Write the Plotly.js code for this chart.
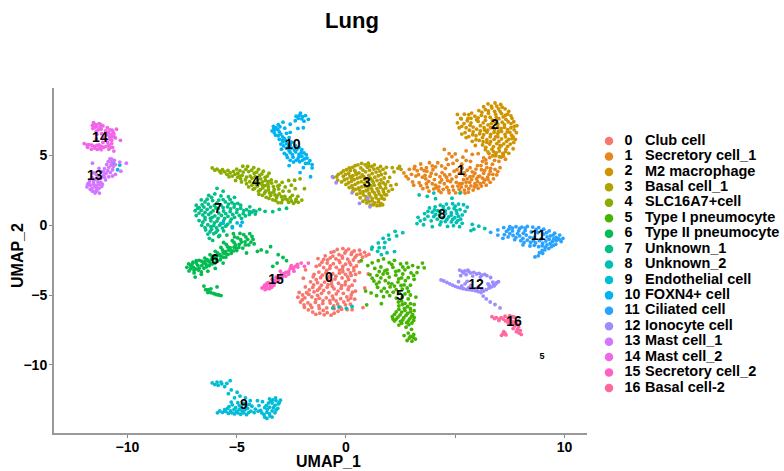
<!DOCTYPE html>
<html><head><meta charset="utf-8"><script src="https://cdn.plot.ly/plotly-3.0.1.min.js"></script>
<style>html,body{margin:0;padding:0;background:#fff}</style></head><body><div id="c" style="width:784px;height:471px"></div>
<script>
const clusterIds=["0","1","2","3","4","5","6","7","8","9","10","11","12","13","14","15","16"];
const cellTypes=["Club cell","Secretory cell_1","M2 macrophage","Basal cell_1","SLC16A7+cell","Type I pneumocyte","Type II pneumocyte","Unknown_1","Unknown_2","Endothelial cell","FOXN4+ cell","Ciliated cell","Ionocyte cell","Mast cell_1","Mast cell_2","Secretory cell_2","Basal cell-2"];
const colors=["#F8766D","#E7851E","#D09400","#B2A100","#89AC00","#45B500","#00BC51","#00C087","#00C0B2","#00BCD6","#00B3F2","#29A3FF","#9C8DFF","#D277FF","#F166E8","#FF61C7","#FF689E"];
const labelX=[-0.78,5.26,6.82,0.96,-4.12,2.47,-6.0,-5.86,4.39,-4.67,-2.43,8.79,5.95,-11.49,-11.26,-3.2,7.69];
const labelY=[-3.8,3.86,7.14,3.0,3.07,-5.14,-2.57,1.14,0.71,-12.93,5.71,-0.79,-4.29,3.5,6.21,-3.93,-6.93];
const c0=[[-0.14,-1.68],[0.12,-1.72],[-0.4,-1.75],[-0.68,-1.95],[0.38,-1.85],[0.62,-1.8],[0.85,-1.95],[1.05,-2.1],[-0.05,-2],[-0.32,-2.12],[0.24,-2.1],[0.5,-2.15],[0.76,-2.3],[-0.95,-2.2],[-1.28,-2.4],[-0.72,-2.35],[-0.46,-2.42],[-0.16,-2.36],[0.08,-2.44],[0.34,-2.5],[0.6,-2.62],[-1.1,-2.66],[-0.86,-2.72],[-0.58,-2.76],[-0.28,-2.68],[-0.02,-2.8],[0.22,-2.84],[0.48,-2.92],[-1.36,-2.95],[-1.02,-3.04],[-0.74,-3.1],[-0.44,-3.02],[-0.16,-3.14],[0.1,-3.18],[0.36,-3.26],[0.62,-3.4],[-1.24,-3.36],[-0.92,-3.42],[-0.6,-3.48],[-0.3,-3.44],[-0.02,-3.52],[0.24,-3.6],[-1.5,-3.7],[-1.16,-3.76],[-0.82,-3.82],[-0.5,-3.86],[-0.18,-3.78],[0.12,-3.9],[0.4,-3.98],[-1.62,-4.06],[-1.3,-4.12],[-0.98,-4.08],[-0.66,-4.2],[-0.34,-4.16],[-0.04,-4.26],[0.28,-4.3],[-1.86,-4.42],[-1.52,-4.46],[-1.2,-4.5],[-0.86,-4.44],[-0.54,-4.56],[-0.22,-4.52],[0.1,-4.62],[0.44,-4.72],[-2.14,-4.82],[-1.8,-4.84],[-1.46,-4.78],[-1.12,-4.88],[-0.78,-4.84],[-0.44,-4.92],[-0.12,-4.88],[0.24,-5],[-2.2,-5.16],[-1.88,-5.2],[-1.56,-5.14],[-1.22,-5.24],[-0.9,-5.2],[-0.58,-5.28],[-0.24,-5.26],[0.1,-5.36],[-2.08,-5.5],[-1.74,-5.56],[-1.4,-5.52],[-1.06,-5.6],[-0.72,-5.58],[-0.38,-5.64],[-0.02,-5.7],[-1.9,-5.88],[-1.56,-5.9],[-1.22,-5.96],[-0.88,-5.92],[-0.54,-5.98],[-0.2,-6.02],[-1.52,-6.22],[-1.2,-6.3],[-0.86,-6.26],[-0.54,-6.3],[0.4,-5.3],[0.86,-4.5],[1.02,-3.5],[-2.5,-2.9],[-1.85,-3.2],[-1.95,-3.8],[0.78,-5.9],[0.28,-6.05]];
const c0b=[[-0.55,-1.9],[0,-1.85],[0.28,-1.95],[-0.18,-2.22],[0.42,-2.3],[-0.84,-2.5],[-0.32,-2.54],[0.16,-2.66],[-1.2,-2.85],[-0.72,-2.92],[-0.14,-2.96],[0.36,-3.05],[-0.88,-3.24],[-0.3,-3.22],[0.2,-3.42],[-1.08,-3.58],[-0.46,-3.66],[0.08,-3.7],[-1.36,-3.9],[-0.66,-4],[-0.02,-4.06],[-1.48,-4.28],[-0.82,-4.26],[-0.2,-4.34],[-1.68,-4.64],[-1.02,-4.68],[-0.36,-4.72],[0.3,-4.8],[-1.98,-5],[-1.3,-5.02],[-0.62,-5.08],[0.04,-5.14],[-2,-5.34],[-1.38,-5.34],[-0.74,-5.4],[-0.1,-5.5],[-1.92,-5.7],[-1.24,-5.76],[-0.56,-5.78],[-1.72,-6.06],[-1.04,-6.1],[-0.36,-6.16],[-1.38,-6.38],[-1,-6.42],[-0.68,-6.44],[-1.62,-5.72],[-1.05,-5.4],[-0.45,-5.42],[0.22,-5.22],[-1.7,-4.96],[-1.3,-4.66],[-0.62,-4.4],[0.14,-4.42],[-1.12,-4.3],[-1.46,-3.52],[-0.74,-3.66],[-0.14,-3.34],[0.44,-3.52],[-1.02,-2.46],[-0.6,-2.22],[0.66,-2.08],[0.92,-2.2],[0.2,-5.65],[0.05,-6.05],[-0.25,-5.88]];
const c1=[[2.65,3.72],[2.9,3.98],[3.15,4.18],[3.42,4.36],[3.58,3.88],[3.2,3.5],[2.85,3.3],[3.35,3.02],[3.65,3.3],[3.9,3.7],[4.1,4.15],[3.82,4.45],[4.3,3.45],[3.95,2.95],[3.52,2.6],[3.8,2.42],[4.15,2.65],[4.5,2.95],[4.75,3.6],[4.55,4.05],[4.9,4.4],[4.6,4.7],[5,5.08],[4.35,2.32],[4.7,2.48],[5.02,2.3],[5.28,2.72],[5.05,3.05],[5.38,3.25],[5.2,3.7],[5.55,3.92],[5.3,4.35],[5.7,4.55],[5.35,4.85],[5.78,5.05],[5.6,2.35],[5.88,2.72],[5.66,3.05],[5.98,3.3],[5.9,3.7],[6.2,3.95],[6.02,4.25],[6.25,4.55],[6.15,2.95],[6.35,3.22],[6.55,3.62],[6.45,4.1],[6.7,4.35],[6.58,4.82],[6.82,3.98],[7,4.55],[7.2,5.02],[5.42,2.5],[4.88,2.76],[4.3,3.05],[4.85,3.28],[5.68,3.46],[6.12,3.5],[6.3,3.7],[5.55,3.3],[5.78,3.8],[5.9,2.95],[5.18,2.55],[4.62,2.7],[3.1,2.85],[3.32,3.6],[3.72,2.7],[4.05,3.25],[4.4,3.75],[4.2,4.45],[4.72,5.1],[4.95,3.85],[6.6,3.05],[6.9,3.58],[7.3,4.7],[6.85,5.1],[7.05,4.1],[6.3,4.8],[6.05,5.1],[5.5,5.3],[4.5,5.4],[3.05,3.08],[2.75,3.48],[3.45,4.02],[5.2,2.95],[5.5,2.78],[5.75,3.25],[6.05,2.62],[6.42,2.85],[6.75,3.3],[4.25,2.45],[4.02,2.58],[5.32,4.08],[5.08,4.62],[4.78,3.1],[3.95,4.22],[4.68,4.32],[3.68,4.1]];
const c1b=[[3,3.62],[3.26,3.88],[3.5,3.42],[3.78,3.12],[4.12,3.62],[4.38,3.22],[4.6,3.42],[4.1,2.85],[4.45,2.55],[4.92,2.5],[5.12,2.78],[5.32,2.98],[5.5,3.06],[5.62,2.6],[5.82,2.5],[5.98,2.82],[6.2,2.78],[6.3,3.05],[6.48,3.42],[6.25,3.35],[6.02,3.1],[5.82,3.5],[5.45,3.55],[5.05,3.45],[5.08,3.95],[5.42,3.72],[5.68,4.1],[5.95,4.0],[6.18,4.25],[6.42,4.4],[6.62,4.05],[6.8,4.62],[6.4,4.65],[6.6,3.85],[6.95,3.82],[6.72,3.62],[7.1,4.85],[5.5,4.62],[4.85,4.88],[4.38,4.22],[4.52,3.58],[3.85,3.48],[3.12,4.02],[3.62,3.55],[3.42,2.82],[3.68,2.95],[4.25,2.72],[4.72,2.3],[5.25,2.35],[5.45,2.28],[5.72,2.8],[6.05,3.45],[6.35,3.9],[6.5,3.25],[4.65,3.18],[3.98,3.95],[3.7,3.85]];
const c2=[[6.5,8.66],[6.82,8.72],[7.08,8.62],[7.28,8.3],[6.98,8.3],[6.68,8.36],[6.38,8.24],[6.08,8.18],[5.75,8],[5.42,7.92],[5.1,7.9],[5.25,7.62],[5.58,7.6],[5.9,7.78],[6.2,7.84],[6.52,7.98],[6.85,7.92],[7.12,7.96],[7.4,7.92],[7.6,7.62],[7.32,7.55],[7,7.6],[6.7,7.5],[6.38,7.48],[6.05,7.4],[5.72,7.3],[5.4,7.25],[5.1,7.3],[5.18,6.95],[5.5,6.95],[5.82,7],[6.15,7.1],[6.5,7.15],[6.95,7.2],[7.25,7.18],[7.55,7.25],[7.82,7.1],[7.7,6.8],[7.4,6.82],[7.1,6.88],[6.8,6.82],[6.48,6.78],[6.15,6.72],[5.82,6.65],[5.45,6.6],[5.3,6.5],[5.62,6.32],[5.95,6.38],[6.3,6.45],[6.62,6.48],[6.95,6.52],[7.28,6.48],[7.58,6.42],[7.75,6.12],[7.45,6.12],[7.12,6.15],[6.78,6.12],[6.45,6.1],[6.1,6.05],[5.78,5.98],[5.92,5.68],[6.25,5.72],[6.58,5.78],[6.9,5.82],[7.22,5.8],[7.52,5.78],[7.65,5.45],[7.32,5.42],[7,5.48],[6.68,5.42],[6.38,5.38],[6.55,5.1],[6.88,5.15],[7.18,5.12],[7.45,5.12],[7.02,4.88],[6.72,4.95],[5.28,7.58],[5.62,7.88],[6.3,8.45],[6.9,8.5],[7.45,8.12],[7.68,7.38],[7.55,6.95],[7.8,6.6],[7.6,6.18],[5.5,6.25],[5.95,6.1],[6.35,6.78],[6.65,7.25],[6.98,6.7],[7.3,7.85],[5.72,7.62],[6.05,7.65],[6.6,7.7],[7.15,7.35],[7.38,6.65],[6.85,6.3],[6.45,5.9],[7.1,5.65]];
const c2b=[[6.65,8.5],[7.15,8.42],[6.52,8.15],[6.22,8.05],[6.8,8.12],[7.05,8.12],[7.55,7.8],[7.2,7.72],[6.88,7.7],[6.38,7.72],[5.98,7.52],[5.55,7.45],[5.3,7.05],[5.68,7.12],[6.28,7.3],[6.8,7.38],[7.42,7.38],[7.7,7.05],[7.25,6.98],[6.95,7],[6.62,6.95],[6.32,6.95],[5.98,6.85],[5.65,6.78],[5.8,6.45],[6.12,6.52],[6.45,6.62],[6.78,6.62],[7.12,6.68],[7.5,6.62],[7.65,6.3],[7.3,6.3],[6.95,6.3],[6.6,6.3],[6.25,6.25],[6.28,5.95],[6.62,5.95],[7,5.98],[7.35,5.98],[7.68,5.9],[6.4,5.55],[6.75,5.6],[7.05,5.68],[7.4,5.62],[6.5,5.22],[6.75,5.25],[7.02,5.28],[7.3,5.25],[6.85,4.95],[7.2,4.92]];
const c3=[[-0.58,3.4],[-0.35,3.62],[-0.12,3.86],[0.15,4.08],[0.42,4.24],[0.72,4.4],[1.02,4.42],[1.3,4.3],[1.58,4.18],[1.85,4.12],[2.12,4.1],[2.38,4.05],[2.52,3.98],[-0.38,3.2],[-0.12,3.48],[0.12,3.7],[0.4,3.9],[0.68,4.08],[0.98,4.12],[1.28,4],[1.55,3.85],[1.8,3.7],[-0.2,3.08],[0.05,3.3],[0.32,3.52],[0.6,3.72],[0.9,3.8],[1.2,3.68],[1.48,3.52],[1.75,3.36],[2,3.4],[0,2.9],[0.25,3.12],[0.52,3.35],[0.82,3.45],[1.12,3.35],[1.42,3.18],[1.7,3.02],[1.92,3.1],[0.15,2.68],[0.42,2.9],[0.7,3.1],[1,3.05],[1.3,2.85],[1.58,2.7],[1.82,2.65],[2.05,2.82],[0.32,2.42],[0.58,2.65],[0.88,2.75],[1.18,2.58],[1.48,2.42],[1.72,2.36],[1.95,2.42],[0.5,2.2],[0.78,2.38],[1.06,2.26],[1.36,2.12],[1.62,2.08],[1.86,2.15],[0.65,1.95],[0.92,2.02],[1.2,1.9],[1.5,1.82],[1.75,1.85],[0.78,1.7],[1.05,1.68],[1.32,1.58],[1.6,1.55],[1.12,1.42],[1.42,1.38],[1.68,1.45],[0.2,3.9],[1.05,4.22],[0.48,3.62],[0.85,3.25],[1.2,3.18],[1.55,2.95],[0.32,2.62],[0.62,2.5],[1,2.5],[1.3,2.3],[-0.02,3.62],[0.25,3.35],[1.62,3.6],[2.2,3.8],[2.45,4.18],[2.3,2.9],[2.12,2.55]];
const c3b=[[-0.42,3.45],[-0.22,3.72],[0.02,3.95],[0.3,4.12],[0.55,4.3],[0.88,4.3],[1.18,4.18],[1.45,4.05],[1.7,3.98],[0.78,3.92],[1.08,3.92],[1.38,3.78],[-0.08,3.22],[0.18,3.5],[0.45,3.75],[0.75,3.58],[1.05,3.55],[1.32,3.42],[1.6,3.22],[0.12,3.02],[0.38,3.25],[0.65,3.42],[0.95,3.22],[1.25,3.05],[1.52,2.88],[1.8,2.9],[0.28,2.82],[0.55,3.02],[0.85,2.95],[1.15,2.82],[1.42,2.6],[1.7,2.52],[0.45,2.55],[0.72,2.72],[1.02,2.68],[0.65,2.28],[0.92,2.45],[1.22,2.4],[1.52,2.22],[1.78,2.18],[0.8,2.15],[1.1,2.08],[1.38,1.95],[1.65,1.92],[0.92,1.82],[1.2,1.72],[1.48,1.65],[1.25,1.45],[1.55,1.4],[0.95,1.58]];
const c4=[[-6.12,4.08],[-5.9,4],[-5.65,3.95],[-5.4,3.9],[-5.15,3.84],[-5,4],[-4.72,4.2],[-4.5,4.18],[-4.22,4.1],[-4,3.98],[-3.78,3.85],[-3.52,3.7],[-5.72,3.72],[-5.45,3.62],[-5.2,3.5],[-4.95,3.42],[-4.7,3.78],[-4.45,3.82],[-4.2,3.7],[-3.95,3.55],[-3.7,3.4],[-3.42,3.22],[-4.95,3.7],[-5.05,3.18],[-4.78,3.08],[-4.55,3.42],[-4.3,3.35],[-4.05,3.22],[-3.82,3.08],[-3.58,2.92],[-3.32,2.75],[-3.08,2.58],[-4.55,2.95],[-4.3,2.85],[-4.05,2.78],[-3.8,2.65],[-3.55,2.52],[-3.3,2.38],[-3.05,2.22],[-2.8,2.05],[-2.55,1.95],[-2.28,1.85],[-2.02,1.78],[-4.25,2.55],[-4,2.42],[-3.72,2.28],[-3.45,2.12],[-3.18,1.95],[-2.9,1.8],[-2.62,1.62],[-2.4,1.55],[-3.98,2.2],[-3.65,1.98],[-3.35,1.8],[-3.1,1.6],[-3.2,3.1],[-2.92,3.05],[-2.62,3.18],[-2.35,3.2],[-3.05,2.85],[-2.78,2.72],[-2.5,2.85],[-2.32,2.6],[-2.6,2.42],[-2.88,2.42],[-2.45,2.12],[-2.2,2.05],[-3.9,3.3],[-4.4,3.1],[-3.55,3.1],[-4.75,3.55],[-3.95,2.98],[-3.7,2.82],[-3.5,2.3],[-3.25,2.15],[-2.95,2.02],[-2.68,1.8],[-2.3,1.7],[-2.1,3.3],[-1.9,2.6]];
const c4b=[[-6,3.92],[-5.78,3.85],[-5.55,3.8],[-5.3,3.72],[-5.08,3.62],[-4.85,3.88],[-4.58,3.98],[-4.32,3.92],[-4.08,3.78],[-3.85,3.65],[-3.6,3.5],[-4.82,3.3],[-4.6,3.22],[-4.38,3.5],[-4.15,3.45],[-4.18,3.05],[-4.45,2.72],[-4.18,2.62],[-3.92,2.52],[-3.68,2.42],[-3.42,2.28],[-3.15,2.1],[-2.78,1.88],[-2.5,1.72],[-2.18,1.62],[-3.82,2.85],[-3.55,2.72],[-3.28,2.55],[-3.82,2.12],[-3.52,1.9],[-3.22,1.75],[-2.95,1.6],[-4.1,2.9],[-3.68,3.18],[-3.4,3],[-3.12,2.78],[-4.85,3.5],[-5.35,3.45]];
const c5=[[0.7,-2.55],[1.2,-2.7],[1.48,-2.55],[1.72,-2.42],[1.98,-2.68],[2.22,-2.52],[2.5,-2.78],[2.78,-2.72],[3.05,-2.9],[3.3,-3.02],[3.58,-3.06],[1.32,-3.1],[1.6,-3],[1.88,-3.2],[2.15,-3.02],[2.42,-3.26],[2.7,-3.2],[2.98,-3.42],[3.25,-3.4],[1.1,-3.55],[1.42,-3.6],[1.7,-3.5],[1.98,-3.72],[2.28,-3.58],[2.55,-3.78],[2.85,-3.76],[3.12,-3.88],[1.28,-4],[1.52,-4.08],[1.8,-3.98],[2.1,-4.2],[2.38,-4.08],[2.66,-4.28],[2.95,-4.3],[1.45,-4.45],[1.75,-4.52],[2.02,-4.42],[2.3,-4.62],[2.58,-4.58],[2.86,-4.75],[0.9,-4.72],[1.15,-4.85],[1.4,-5.05],[1.72,-5.12],[2,-5.05],[2.3,-5.22],[2.58,-5.15],[2.85,-5.28],[2.7,-5.6],[2.95,-5.62],[3.12,-5.68],[2.42,-5.78],[2.68,-5.95],[2.95,-5.98],[3.12,-6.12],[2.3,-6.2],[2.55,-6.22],[2.82,-6.32],[3.05,-6.4],[2.12,-6.55],[2.38,-6.58],[2.65,-6.62],[2.92,-6.7],[2.22,-6.85],[2.5,-6.88],[2.78,-6.98],[3.02,-7],[2.42,-7.15],[2.75,-7.3],[3,-7.45],[2.85,-7.72],[3.1,-7.82],[2.66,-7.9],[2.9,-8.08],[3.18,-8.15],[3.02,-8.3],[2.8,-8.25],[1,-2.9],[0.95,-5.7],[1.2,-3.8],[3.5,-2.72],[1.62,-5.62],[3.2,-5.15],[2.4,-5.5]];
const c5b=[[2.1,-2.82],[2.6,-3],[2.85,-3.02],[1.52,-3.32],[1.78,-3.28],[2.28,-3.32],[2.6,-3.5],[3.1,-3.6],[1.6,-3.78],[1.9,-3.45],[2.42,-3.85],[2.72,-3.98],[1.4,-4.22],[1.95,-4.15],[2.22,-4.36],[2.52,-4.32],[2.8,-4.5],[1.62,-4.72],[1.88,-4.78],[2.16,-4.8],[2.45,-4.85],[2.7,-4.92],[2.95,-5],[2.55,-5.42],[2.82,-5.82],[2.58,-5.68],[2.42,-6.02],[2.7,-6.1],[2.95,-6.2],[2.22,-6.38],[2.48,-6.42],[2.75,-6.45],[3,-6.55],[2.3,-6.72],[2.6,-6.78],[2.85,-6.85],[3.1,-6.82],[2.55,-7.02],[2.88,-7.12],[2.15,-6.72],[3.12,-6.6],[2.95,-7.95],[3.08,-8.05]];
const c6=[[-7.28,-3.02],[-7.2,-2.78],[-7.18,-3.28],[-7,-2.66],[-6.98,-3.02],[-6.95,-3.42],[-6.78,-2.88],[-6.75,-3.22],[-6.72,-2.52],[-6.52,-2.72],[-6.5,-3.08],[-6.46,-2.36],[-6.28,-2.58],[-6.25,-2.9],[-6.22,-2.12],[-6.02,-2.32],[-6,-2.72],[-5.98,-1.88],[-5.78,-2.12],[-5.75,-2.48],[-5.72,-1.6],[-5.52,-1.9],[-5.5,-2.3],[-5.48,-1.38],[-5.3,-1.62],[-5.25,-2.02],[-5.2,-1.12],[-5.05,-1.42],[-5,-1.82],[-4.95,-0.92],[-4.78,-1.22],[-4.72,-1.65],[-4.68,-0.68],[-4.5,-1.02],[-4.45,-1.42],[-4.4,-0.62],[-4.25,-1.02],[-4.2,-1.35],[-4.05,-1.88],[-3.88,-1.78],[-4.55,-2],[-5.82,-0.82],[-5.45,-0.72],[-5.15,-0.62],[-3.62,-1.92],[-3.45,-1.55],[-3.1,-2.12],[-3.15,-2.72],[-2.88,-2.32],[-2.72,-2.55],[-3.35,-2.95],[-6.9,-3.72],[-6.62,-3.52],[-6.32,-3.3],[-5.98,-3.1],[-5.62,-2.72],[-6.5,-4.36],[-6.42,-4.62],[-6.32,-4.82],[-6.18,-4.56],[-6.08,-4.88],[-5.92,-4.98],[-5.72,-5.04],[-5.9,-4.42],[-6.85,-2.72],[-6.62,-3.35],[-7.1,-2.92],[-6.4,-2.82],[-6.15,-2.45],[-5.9,-2.22],[-5.62,-2],[-5.38,-1.78],[-5.12,-1.58],[-4.88,-1.38],[-4.62,-1.2],[-4.3,-0.82],[-5.6,-1.25],[-5.1,-0.85],[-4.85,-0.6]];
const c6b=[[-7.1,-3.12],[-6.88,-3.14],[-7.05,-2.82],[-6.85,-2.55],[-6.6,-2.9],[-6.6,-2.58],[-6.38,-2.98],[-6.35,-2.48],[-6.12,-2.78],[-6.12,-2.25],[-5.9,-2.58],[-5.88,-2],[-5.62,-2.3],[-5.65,-1.78],[-5.4,-2.1],[-5.42,-1.55],[-5.15,-1.85],[-5.12,-1.25],[-4.9,-1.6],[-4.82,-1.05],[-4.6,-1.42],[-4.58,-0.85],[-4.35,-1.22],[-6.95,-3.24],[-6.72,-3.08],[-6.45,-2.62],[-6.22,-2.7],[-5.96,-2.42],[-5.72,-2.25],[-5.5,-2.05],[-5.28,-1.82],[-5.02,-1.65],[-6.3,-4.62],[-6.2,-4.82],[-6,-4.92],[-5.82,-5]];
const c7=[[-5.9,2.62],[-5.62,2.42],[-6.28,2.12],[-6,2.22],[-5.72,2.08],[-5.38,2.02],[-5.1,1.98],[-6.62,1.8],[-6.35,1.85],[-6.1,1.75],[-5.82,1.78],[-5.52,1.65],[-5.22,1.6],[-4.95,1.55],[-6.85,1.42],[-6.58,1.45],[-6.3,1.5],[-6.02,1.4],[-5.72,1.42],[-5.42,1.3],[-5.12,1.28],[-4.82,1.2],[-4.55,1.1],[-4.22,1.02],[-3.95,1.12],[-6.9,1.02],[-6.62,1.05],[-6.35,1.12],[-6.08,1.02],[-5.6,1],[-5.3,0.95],[-5,0.9],[-4.7,0.82],[-4.42,0.75],[-4.15,0.78],[-6.85,0.68],[-6.55,0.72],[-6.28,0.75],[-6,0.65],[-5.7,0.68],[-5.4,0.62],[-5.1,0.55],[-4.78,0.48],[-6.72,0.32],[-6.45,0.38],[-6.18,0.3],[-5.9,0.28],[-5.6,0.3],[-5.3,0.22],[-6.6,-0.02],[-6.32,0.02],[-6.05,-0.05],[-5.78,-0.02],[-5.5,-0.08],[-5.2,-0.12],[-6.42,-0.35],[-6.15,-0.3],[-5.88,-0.38],[-5.6,-0.42],[-6.32,-0.65],[-6.05,-0.62],[-5.78,-0.75],[-6.25,-0.95],[-6.1,-1.1],[-5.5,0.82],[-5.85,1.18],[-6.2,0.48],[-6.5,1.28],[-4.98,1.1],[-4.4,1.3],[-3.7,0.98],[-3.35,0.95],[-3.05,1.12],[-2.72,1.2],[-5.3,1.82],[-5.62,1.25],[-6.78,1.2],[-4.6,0.65],[-4.32,0.92]];
const c7b=[[-6.45,1.65],[-6.15,1.98],[-5.9,1.58],[-5.62,1.82],[-5.38,1.5],[-5.1,1.48],[-4.82,1.42],[-6.72,1.25],[-6.2,1.28],[-5.95,1.22],[-5.28,1.15],[-4.68,1.02],[-4.42,0.95],[-4.12,0.98],[-6.72,0.85],[-6.45,0.9],[-6.18,0.88],[-5.82,0.85],[-5.18,0.75],[-4.88,0.68],[-6.45,0.55],[-6.12,0.55],[-5.85,0.48],[-5.55,0.48],[-5.25,0.42],[-6.55,0.2],[-6.02,0.15],[-5.72,0.12],[-5.42,0.05],[-6.45,-0.18],[-6.18,-0.12],[-5.92,-0.2],[-5.65,-0.22],[-6.22,-0.48],[-5.95,-0.52]];
const c8=[[3.3,0.55],[3.6,0.82],[3.82,1.22],[4.08,1.3],[4.32,1.42],[4.6,1.5],[4.88,1.52],[5.15,1.5],[5.38,1.45],[5.55,1.28],[3.95,0.92],[4.2,1.02],[4.45,1.12],[4.7,1.2],[4.95,1.18],[5.22,1.1],[5.45,0.98],[3.75,0.62],[4.02,0.6],[4.28,0.72],[4.55,0.82],[4.82,0.88],[5.08,0.82],[5.32,0.72],[3.6,0.42],[3.9,0.3],[4.18,0.42],[4.42,0.52],[4.7,0.58],[4.98,0.52],[5.25,0.42],[4.55,0.25],[4.82,0.22],[5.05,0.18],[5.32,0.12],[3.25,0.1],[3.55,0.02],[3.95,-0.12],[4.3,0.02],[4.65,-0.1],[4.92,-0.05],[5.2,-0.12],[3.35,2.15],[3.72,2.05],[4.1,1.88],[4.02,2.28],[5.22,2.28],[4.85,1.92],[5.78,0.05],[6.08,-0.08],[6.35,-0.25],[5.85,-0.3],[5.72,-0.4],[2.6,-0.55],[2.25,-0.45],[1.95,-0.72],[2.32,-0.78],[1.7,-0.95],[1.98,-1.02],[1.48,-1.28],[1.78,-1.25],[1.2,-1.58],[1.52,-1.62],[1.18,-1.72],[1.75,-1.62],[1.45,-1.88],[1.88,-1.98],[1.62,-2.12],[2.22,-1.9],[-0.6,-5.92],[-0.32,-5.85],[0.02,-5.95],[0.28,-5.82]];
const c8b=[[4.05,1.08],[4.55,1],[5.05,1.02],[4.32,0.88],[4.82,0.7],[5.15,0.62],[4.1,0.75],[4.62,0.4],[4.88,0.4],[5.12,0.32],[4.35,0.22],[3.75,0.98],[3.4,0.3],[4.45,1.32],[5,1.35]];
const c9=[[-6.12,-11.28],[-5.9,-11.22],[-5.68,-11.35],[-5.45,-11.32],[-5.3,-11.12],[-5.85,-11.45],[-5.55,-11.55],[-5.25,-11.78],[-4.98,-11.95],[-5.38,-12.05],[-5.1,-12.35],[-4.85,-12.22],[-4.6,-12.35],[-4.38,-12.55],[-5.25,-12.65],[-4.95,-12.7],[-4.68,-12.75],[-4.42,-12.82],[-5.35,-12.98],[-5.05,-13.05],[-4.78,-13.02],[-4.5,-13.1],[-5.55,-13.2],[-5.28,-13.28],[-5,-13.32],[-4.75,-13.28],[-4.45,-13.4],[-5.88,-13.42],[-5.65,-13.38],[-5.38,-13.46],[-5.1,-13.5],[-4.82,-13.52],[-4.55,-13.55],[-3.82,-12.62],[-3.5,-12.42],[-3.22,-12.35],[-3,-12.52],[-3.65,-12.9],[-3.38,-12.72],[-3.1,-12.78],[-3.9,-13.25],[-3.6,-13.18],[-3.32,-13.05],[-3.12,-13.1],[-3.75,-13.55],[-3.5,-13.5],[-3.25,-13.42],[-3.62,-13.82],[-3.38,-13.72],[-4.15,-13.15],[-4.3,-12.95],[-3.98,-12.9],[-4.05,-12.55],[-10.62,4.38],[-10.45,3.95],[-10.35,4.28]];
const c9b=[[-6,-11.4],[-5.72,-11.22],[-5.78,-13.28],[-5.5,-13.32],[-5.22,-13.42],[-4.95,-13.42],[-4.68,-13.42],[-5.12,-13.18],[-4.88,-13.18],[-4.62,-13.2],[-5.2,-12.85],[-4.88,-12.9],[-4.58,-12.92],[-3.45,-12.58],[-3.2,-12.55],[-3.55,-12.72],[-3.25,-12.88],[-3.5,-13.02],[-3.72,-13.05],[-3.38,-13.28],[-3.62,-13.38],[-3.48,-13.65],[-3.72,-13.72],[-5.42,-13.1],[-4.35,-13.3],[-4.2,-13.4],[-4.02,-13.3],[-3.05,-12.7],[-3.2,-13.22],[-3.85,-13.42],[-3.35,-12.5]];
const c10=[[-2.08,8],[-1.85,7.82],[-2.28,7.78],[-2.02,7.58],[-2.32,7.45],[-1.72,7.55],[-2.55,7.2],[-2.8,6.92],[-3.32,7.05],[-3.1,7.18],[-2.88,7.35],[-3.38,6.72],[-3.12,6.82],[-3.22,6.42],[-2.98,6.5],[-2.55,6.62],[-2.2,6.9],[-1.95,6.95],[-3.05,6.12],[-2.82,6.18],[-2.98,5.78],[-2.72,5.82],[-2.48,5.92],[-2.95,5.42],[-2.72,5.48],[-2.48,5.5],[-2.25,5.42],[-2.82,5.12],[-2.55,5.18],[-2.3,5.22],[-2.05,5.18],[-1.82,5.02],[-2.68,4.82],[-2.42,4.85],[-2.15,4.88],[-1.9,4.72],[-1.65,4.6],[-2.4,4.5],[-2.12,4.52],[-1.85,4.4],[-1.55,4.32],[-2.6,4.25],[-1.95,4.1],[-1.55,4.08],[-1.62,3.45],[-2.1,3.75],[-3.2,6.95],[-2.9,6.05],[-2.15,5.05],[-5.62,0.12],[-5.2,-0.2],[-4.98,0.15],[-4.75,0.2],[-4.82,-0.05]];
const c10b=[[-2.12,7.85],[-1.98,7.75],[-3.25,6.82],[-3.05,6.65],[-3.28,6.6],[-3.1,6.38],[-2.9,6.3],[-2.88,5.95],[-2.62,5.62],[-2.85,5.65],[-2.6,5.32],[-2.35,5.35],[-2.72,5],[-2.45,5.02],[-2.2,4.72],[-2.02,4.92],[-1.78,4.78],[-3.02,7.02],[-3.3,6.9],[-2.72,6.55],[-2.6,6.25],[-2.75,6.02],[-2.55,5.72],[-2.32,5.68],[-2.15,5.55],[-2.02,5.38],[-1.92,5.15],[-2.55,4.62],[-2.28,4.62],[-2,4.62],[-1.72,4.42],[-2.18,7.62],[-1.92,7.42]];
const c11=[[6.62,-0.52],[6.95,-0.35],[7.22,-0.18],[7.5,-0.12],[7.78,-0.12],[8.05,-0.15],[8.3,-0.1],[8.55,-0.15],[8.82,-0.18],[9.05,-0.3],[9.3,-0.42],[9.55,-0.58],[9.78,-0.72],[9.93,-0.95],[7.35,-0.45],[7.62,-0.42],[7.9,-0.42],[8.2,-0.4],[8.48,-0.5],[8.78,-0.55],[9.05,-0.65],[9.35,-0.78],[9.62,-0.88],[7.65,-0.75],[7.95,-0.78],[8.25,-0.72],[8.6,-0.9],[8.95,-0.98],[9.3,-1.02],[9.62,-1.12],[9.85,-1.18],[7.72,-1.05],[8,-1.12],[8.3,-1.08],[8.68,-1.28],[9,-1.3],[9.35,-1.32],[9.6,-1.38],[8.1,-1.42],[8.42,-1.5],[8.82,-1.55],[9.12,-1.58],[9.4,-1.55],[8.98,-1.82],[8.85,-1.98],[8.65,-2.28],[8.8,-2.2],[9,-2.02],[6.95,-0.72],[7.25,-0.68],[7.18,-0.95]];
const c11b=[[7.62,-0.22],[7.95,-0.25],[8.2,-0.22],[8.7,-0.32],[9.18,-0.55],[9.48,-0.72],[9.72,-0.98],[9.45,-1.18],[9.15,-1.15],[8.85,-1.12],[9.2,-1.42],[9.5,-1.45],[8.58,-1.12],[7.85,-0.62],[8.12,-0.58],[9.78,-1.05],[7.45,-0.3],[7.5,-0.62],[7.78,-0.9],[8.1,-0.95],[8.42,-0.88],[8.45,-1.25],[8.15,-1.25],[8.95,-0.4],[9.2,-0.85],[9.5,-1],[8.62,-1.45],[8.98,-1.48],[9.28,-1.68],[9.1,-1.78],[7.42,-0.85]];
const c12=[[4.35,-3.92],[4.62,-4.1],[4.88,-4.3],[5.12,-4.45],[5.38,-4.55],[5.65,-4.62],[5.92,-4.7],[6.18,-4.82],[6.28,-5.08],[6.42,-4.62],[6.65,-4.42],[6.85,-4.22],[6.98,-4.05],[6.72,-4.08],[6.62,-3.75],[6.35,-3.52],[6.1,-3.45],[5.85,-3.38],[5.58,-3.22],[5.32,-3.32],[5.25,-3.62],[5.5,-3.55],[5.8,-3.65],[6.15,-3.72],[5.45,-4.2],[5.15,-4.05],[5.72,-4.32],[6.05,-4.48],[6.42,-5.28],[6.6,-5.5],[6.82,-5.68],[7.05,-5.92],[5.55,-4.02],[5.2,-3.22],[6.5,-4.2],[-0.62,3.45],[-0.45,3.02],[0.28,2.3],[1,1.9],[1.1,1.3],[0.62,1.55]];
const c12b=[[5,-4.38],[5.25,-4.5],[5.52,-4.6],[5.78,-4.65],[6.05,-4.75],[6.3,-4.72],[6.55,-4.5],[6.78,-4.35],[6.9,-4.12],[5.7,-3.42],[5.98,-3.5],[5.45,-3.28],[4.48,-4],[4.75,-4.2],[5.3,-4.35],[5.62,-4.48],[5.95,-4.55],[6.22,-4.62],[6.75,-4.2],[6.55,-4.3],[6.45,-3.62],[6.22,-3.58],[5.62,-3.32],[5.38,-3.42]];
const c13=[[-11.75,3.05],[-11.85,2.72],[-11.6,2.42],[-11.52,2.78],[-11.48,2.28],[-11.3,2.62],[-11.62,3.38],[-11.35,3.1],[-11.15,2.92],[-11.42,3.6],[-11.22,3.35],[-11,3.22],[-11.55,3.72],[-11.2,3.82],[-10.98,3.68],[-10.85,3.45],[-11.05,4.02],[-10.85,4.12],[-10.68,3.95],[-10.95,4.32],[-10.72,4.48],[-10.55,4.32],[-10.8,4.72],[-10.6,4.62],[-11.3,4.05],[-11.7,2.55],[-11.4,2.45],[-11.28,2.28],[-11.55,3.1],[-11.3,2.88],[-10.55,3.62],[-10.3,3.85],[-10.35,4.5],[-10.05,4.42],[-11.6,4.42],[-10.68,3.5]];
const c13b=[[-11.7,2.85],[-11.62,2.62],[-11.4,2.85],[-11.42,2.62],[-11.5,3.25],[-11.22,3.05],[-11.35,3.4],[-11.1,3.55],[-10.9,3.88],[-10.75,4.28],[-11.45,2.42],[-11.55,2.95],[-11.72,3.22],[-11.82,2.92],[-11.18,2.75],[-11.05,3.42],[-11.1,3.8],[-10.78,3.75],[-10.65,4.18],[-10.88,4.52],[-10.72,4.7]];
const c14=[[-11.55,7.32],[-11.3,7.25],[-11.4,7.05],[-11.12,7.08],[-11.58,6.9],[-11.32,6.82],[-10.92,6.95],[-10.7,6.78],[-10.88,6.62],[-10.62,6.5],[-11.18,6.52],[-10.82,6.32],[-10.55,6.22],[-11.1,6.22],[-10.72,6.05],[-11.12,5.9],[-10.85,5.68],[-11.98,5.82],[-11.75,5.75],[-11.52,5.62],[-11.3,5.72],[-11.08,5.55],[-10.85,5.42],[-11.65,5.42],[-11.38,5.4],[-10.68,5.55],[-10.62,5.28],[-11.4,6.48],[-11.42,6.15],[-10.5,6.85],[-11.6,7.12],[-11.2,5.38],[-11.82,5.55],[-10.32,6.05],[-10.65,6.62]];
const c14b=[[-11.45,7.18],[-11.22,7.18],[-11.48,6.98],[-11.25,6.95],[-10.78,6.45],[-10.7,6.3],[-10.9,5.88],[-11.62,5.7],[-11.4,5.68],[-11.18,5.62],[-10.98,5.62],[-11.85,5.72],[-11.2,6.85],[-11,6.72],[-10.8,6.8],[-10.95,6.45],[-10.62,6.32],[-10.8,6.12],[-10.98,6.1],[-10.72,5.82],[-10.78,5.55],[-11.28,5.5],[-11.5,5.5],[-11.42,6.7]];
const c15=[[-3.84,-4.5],[-3.72,-4.3],[-3.6,-4.52],[-3.55,-4.12],[-3.45,-4.35],[-3.38,-3.9],[-3.28,-4.15],[-3.2,-3.72],[-3.05,-3.65],[-2.85,-3.48],[-3.1,-3.95],[-2.62,-3.32],[-2.4,-3.12],[-2.22,-2.82],[-2.05,-2.72],[-2.5,-2.95],[-2.75,-3.65],[-1.9,-2.95],[-3.5,-4.55],[-3.7,-4.62],[-3,-3.3],[-1.72,-2.72]];
const c15b=[[-3.75,-4.42],[-3.62,-4.35],[-3.5,-4.22],[-3.4,-4.45],[-3.62,-4.18],[-3.3,-4],[-3.2,-3.85],[-3.12,-3.75],[-2.95,-3.55],[-2.75,-3.38],[-2.55,-3.12],[-2.32,-2.95],[-3.3,-4.3],[-3.2,-4.05],[-3.05,-3.82],[-2.9,-3.68],[-2.62,-3.5],[-2.38,-3.3],[-2.2,-3]];
const c16=[[6.68,-6.55],[6.88,-6.62],[7.1,-6.62],[7.28,-6.52],[7.5,-6.48],[7,-6.82],[7.3,-6.85],[7.52,-6.72],[7.7,-6.58],[7.82,-6.88],[7.55,-7.1],[7.72,-7.22],[7.9,-7.28],[7.98,-7.55],[8.02,-7.82],[7.8,-7.62],[7.22,-7.62],[7.32,-7.85],[7.12,-7.88],[7.42,-6.98]];
const c16b=[[6.8,-6.68],[7.02,-6.72],[7.2,-6.72],[7.42,-6.65],[7.62,-6.55],[7.62,-6.9],[7.42,-6.82],[7.68,-7.02],[7.85,-7.12],[7.65,-7.4],[7.85,-7.45],[7.28,-7.72],[7.18,-7.78],[7.92,-7.72],[7.55,-6.6]];
const clusterPoints=[c0.concat(c0b),c1.concat(c1b),c2.concat(c2b),c3.concat(c3b),c4.concat(c4b),c5.concat(c5b),c6.concat(c6b),c7.concat(c7b),c8.concat(c8b),c9.concat(c9b),c10.concat(c10b),c11.concat(c11b),c12.concat(c12b),c13.concat(c13b),c14.concat(c14b),c15.concat(c15b),c16.concat(c16b)];
const strayTickLabel={x:8.97,y:-9.43,text:"5"};
const xTicks=[-10,-5,0,5,10],xTickText=["\u221210","\u22125","0"," ","10"];
const yTicks=[-10,-5,0,5],yTickText=["\u221210","\u22125","0","5"];
const F="Liberation Sans, Arial, sans-serif";
const rows=clusterIds.map((_,i)=>i);
const traces=[];
clusterPoints.forEach((pts,i)=>traces.push({type:"scatter",mode:"markers",showlegend:false,hoverinfo:"skip",x:pts.map(p=>p[0]),y:pts.map(p=>p[1]),marker:{color:colors[i],size:3.8,line:{width:0}}}));
traces.push({type:"scatter",mode:"text",showlegend:false,hoverinfo:"skip",x:labelX,y:labelY,text:clusterIds,textposition:"middle center",textfont:{family:F,size:14,color:"#000",weight:700}});
traces.push({type:"scatter",mode:"text",showlegend:false,hoverinfo:"skip",x:[strayTickLabel.x],y:[strayTickLabel.y],text:[strayTickLabel.text],textposition:"middle center",textfont:{family:F,size:9,color:"#000",weight:700}});
// legend, on its own hidden axes: x in pixels from the panel's left edge, y in rows
traces.push({type:"scatter",mode:"markers",xaxis:"x2",yaxis:"y2",showlegend:false,hoverinfo:"skip",x:rows.map(()=>13),y:rows,marker:{color:colors,size:8.5,line:{width:0}}});
traces.push({type:"scatter",mode:"text",xaxis:"x2",yaxis:"y2",showlegend:false,hoverinfo:"skip",x:rows.map(()=>28.5),y:rows,text:clusterIds,textposition:"middle right",textfont:{family:F,size:14.3,color:"#000",weight:700}});
traces.push({type:"scatter",mode:"text",xaxis:"x2",yaxis:"y2",showlegend:false,hoverinfo:"skip",x:rows.map(()=>49),y:rows,text:cellTypes,textposition:"middle right",textfont:{family:F,size:14.5,color:"#000",weight:700}});
const tickF={family:F,size:14,weight:700,color:"#000"};
const layout={width:784,height:471,margin:{l:0,r:0,t:0,b:0},paper_bgcolor:"#fff",plot_bgcolor:"#fff",showlegend:false,
 title:{text:"<b>Lung</b>",font:{family:F,size:22,color:"#000"},x:352/784,xref:"paper",xanchor:"center",y:1-20/471,yref:"paper",yanchor:"middle"},
 font:{family:F,color:"#000"},
 xaxis:{domain:[54/784,587/784],anchor:"y",range:[-13.36,11.03],showgrid:false,zeroline:false,showline:true,linecolor:"#999",linewidth:2,ticks:"outside",ticklen:3,tickcolor:"#888",tickwidth:1,tickmode:"array",tickvals:xTicks,ticktext:xTickText,tickfont:tickF,ticklabelstandoff:-3},
 yaxis:{domain:[1-433/471,1-88/471],anchor:"x",range:[-14.86,9.79],showgrid:false,zeroline:false,showline:true,linecolor:"#999",linewidth:2,ticks:"outside",ticklen:3,tickcolor:"#888",tickwidth:1,tickmode:"array",tickvals:yTicks,ticktext:yTickText,tickfont:tickF,ticklabelstandoff:-1},
 xaxis2:{domain:[596/784,1],anchor:"y2",range:[0,188],visible:false,fixedrange:true},
 yaxis2:{domain:[1-395.7/471,1-133.3/471],anchor:"x2",range:[16.5,-0.5],visible:false,fixedrange:true},
 annotations:[
  {text:"<b>UMAP_1</b>",xref:"paper",yref:"paper",x:328/784,y:1-461/471,xanchor:"center",yanchor:"middle",showarrow:false,font:{family:F,size:16,color:"#000"}},
  {text:"<b>UMAP_2</b>",xref:"paper",yref:"paper",x:17/784,y:1-256/471,xanchor:"center",yanchor:"middle",showarrow:false,textangle:-90,font:{family:F,size:16,color:"#000"}}]};
Plotly.newPlot("c",traces,layout,{displayModeBar:false,responsive:false});
</script></body></html>
